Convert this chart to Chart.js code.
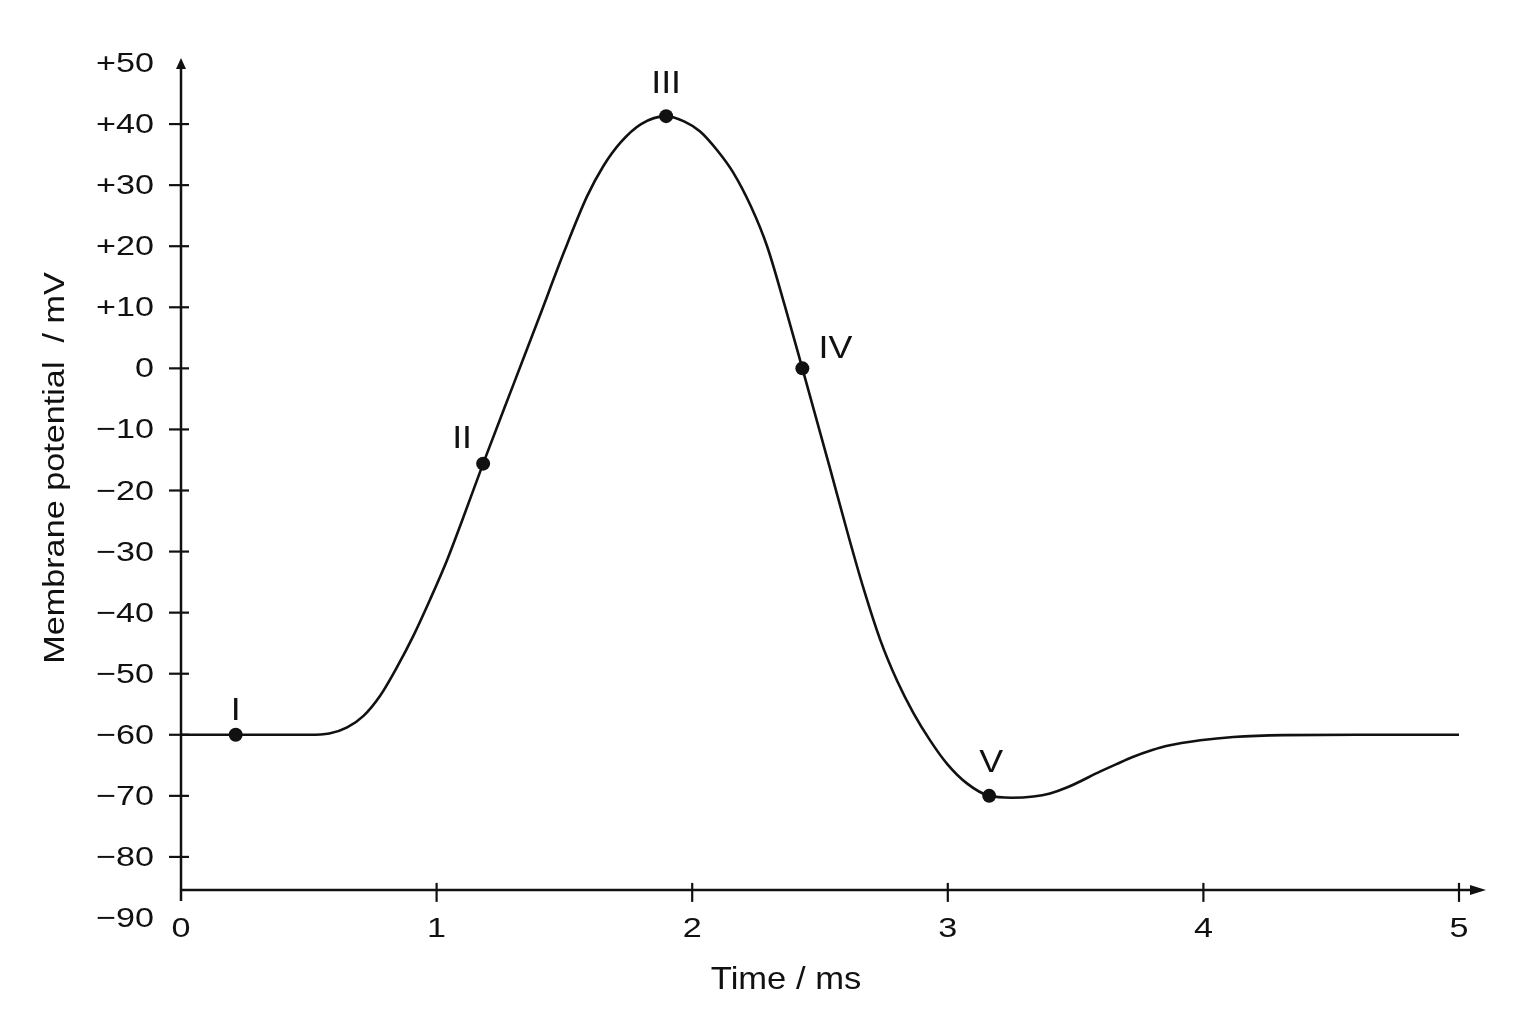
<!DOCTYPE html>
<html lang="en">
<head>
  <meta charset="UTF-8">
  <title>Membrane potential vs time</title>
  <style>
    * {
      margin: 0;
      padding: 0;
      box-sizing: border-box;
    }

    body {
      background-color: #fff;
      width: 1536px;
      height: 1024px;
      overflow: hidden;
    }

    canvas {
      display: block;
    }
  </style>
  <script src="https://cdn.jsdelivr.net/npm/chart.js"></script>
</head>
<body>
  <canvas id="actionPotentialChart" width="1536" height="1024"></canvas>

  <script>
    // Curve (time in ms, potential in mV)
    const time = [0, 0.215, 0.50, 0.58, 0.65, 0.714, 0.779, 0.844, 0.909, 0.975, 1.04, 1.10,
      1.182, 1.30, 1.40, 1.50, 1.589, 1.652, 1.72, 1.80, 1.898, 1.97, 2.031, 2.10, 2.16, 2.23,
      2.293, 2.36, 2.431, 2.54, 2.607, 2.670, 2.736, 2.802, 2.865, 2.932, 2.998, 3.076, 3.162,
      3.25, 3.335, 3.40, 3.468, 3.597, 3.66, 3.726, 3.80, 3.859, 3.988, 4.117, 4.313, 4.6, 5.0];
    const potential = [-60, -60, -60, -59.8, -58.8, -56.9, -53.6, -49.0, -43.8, -37.8, -31.5, -24.9,
      -15.6, -2.7, 8.2, 19.2, 28.2, 33.1, 37.0, 40.0, 41.3, 40.4, 38.8, 35.6, 32.1, 26.5,
      20.0, 10.6, 0, -16.5, -26.8, -36.0, -44.5, -51.2, -56.4, -61.0, -64.8, -68.0, -70,
      -70.3, -70.1, -69.6, -68.6, -66.0, -64.8, -63.6, -62.5, -61.8, -60.9, -60.35, -60.05, -60, -60];

    // Labelled stages
    const stageLabels = ['I', 'II', 'III', 'IV', 'V'];
    const stageTime = [0.214, 1.182, 1.898, 2.431, 3.162];
    const stagePotential = [-60, -15.6, 41.3, 0, -70];

    // Axes
    const xTicks = [0, 1, 2, 3, 4, 5];
    const xTickLabels = ['0', '1', '2', '3', '4', '5'];
    const yTicks = [50, 40, 30, 20, 10, 0, -10, -20, -30, -40, -50, -60, -70, -80, -90];
    const yTickLabels = ['+50', '+40', '+30', '+20', '+10', '0', '\u221210', '\u221220', '\u221230',
      '\u221240', '\u221250', '\u221260', '\u221270', '\u221280', '\u221290'];
    const xTitle = 'Time / ms';
    const yTitle = 'Membrane potential  / mV';

    const INK = '#111';
    const FONT = '"Liberation Sans", Arial, sans-serif';
    const X_AXIS_AT = -85.4; // where the time axis crosses the potential axis

    // label offsets from each stage dot, in pixels
    const stageOffsets = [[0, -26], [-21, -27], [0, -35], [33, -22], [2, -35]];

    // text helper: the original lettering is a little wider than Liberation Sans
    function drawText(ctx, text, x, y, size, stretch, align) {
      ctx.save();
      ctx.font = size + 'px ' + FONT;
      ctx.fillStyle = INK;
      ctx.textAlign = align || 'center';
      ctx.textBaseline = 'alphabetic';
      ctx.translate(x, y + size * 0.358);
      ctx.scale(stretch, 1);
      ctx.fillText(text, 0, 0);
      ctx.restore();
    }

    const axesPlugin = {
      id: 'handAxes',
      beforeDraw(chart) {
        const ctx = chart.ctx;
        ctx.save();
        ctx.fillStyle = '#fff';
        ctx.fillRect(0, 0, chart.width, chart.height);
        ctx.restore();
      },
      beforeDatasetsDraw(chart) {
        const ctx = chart.ctx;
        const xs = chart.scales.x;
        const ys = chart.scales.y;
        const x0 = xs.getPixelForValue(0);
        const yAxisY = ys.getPixelForValue(X_AXIS_AT);
        const yTop = ys.getPixelForValue(50);
        const xEnd = xs.getPixelForValue(5);

        ctx.save();
        ctx.strokeStyle = INK;
        ctx.fillStyle = INK;
        ctx.lineWidth = 2.5;

        // potential axis
        ctx.beginPath();
        ctx.moveTo(x0, yAxisY + 11);
        ctx.lineTo(x0, yTop + 4);
        ctx.stroke();
        ctx.beginPath();
        ctx.moveTo(x0, yTop - 5);
        ctx.lineTo(x0 - 5, yTop + 6);
        ctx.lineTo(x0 + 5, yTop + 6);
        ctx.closePath();
        ctx.fill();

        // time axis
        ctx.beginPath();
        ctx.moveTo(x0, yAxisY);
        ctx.lineTo(xEnd + 16, yAxisY);
        ctx.stroke();
        ctx.beginPath();
        ctx.moveTo(xEnd + 27, yAxisY);
        ctx.lineTo(xEnd + 11, yAxisY - 5);
        ctx.lineTo(xEnd + 11, yAxisY + 5);
        ctx.closePath();
        ctx.fill();

        // cross ticks
        ctx.lineWidth = 2.2;
        yTicks.forEach(v => {
          if (v >= 50 || v <= -90) return;
          const py = ys.getPixelForValue(v);
          ctx.beginPath();
          ctx.moveTo(x0 - 12, py);
          ctx.lineTo(x0 + 8, py);
          ctx.stroke();
        });
        xTicks.forEach(v => {
          if (v === 0) return;
          const px = xs.getPixelForValue(v);
          ctx.beginPath();
          ctx.moveTo(px, yAxisY - 7);
          ctx.lineTo(px, yAxisY + 12);
          ctx.stroke();
        });
        ctx.restore();

        // tick labels
        yTicks.forEach((v, i) => {
          drawText(ctx, yTickLabels[i], x0 - 27, ys.getPixelForValue(v) - 1, 28, 1.22, 'right');
        });
        xTicks.forEach((v, i) => {
          drawText(ctx, xTickLabels[i], xs.getPixelForValue(v), yAxisY + 37, 28, 1.22, 'center');
        });

        // axis titles
        drawText(ctx, xTitle, 786, 978, 32, 1.08, 'center');
        ctx.save();
        ctx.translate(53, 468);
        ctx.rotate(-Math.PI / 2);
        drawText(ctx, yTitle, 0, 0, 30, 1.14, 'center');
        ctx.restore();
      },
      afterDatasetsDraw(chart) {
        const ctx = chart.ctx;
        const meta = chart.getDatasetMeta(0);
        meta.data.forEach((pt, i) => {
          drawText(ctx, stageLabels[i], pt.x + stageOffsets[i][0], pt.y + stageOffsets[i][1], 32, 1.12, 'center');
        });
      }
    };

    const ctx = document.getElementById('actionPotentialChart').getContext('2d');

    new Chart(ctx, {
      type: 'line',
      data: {
        datasets: [
          {
            label: 'Stages',
            data: stageTime.map((t, i) => ({ x: t, y: stagePotential[i] })),
            showLine: false,
            pointRadius: 7,
            pointBackgroundColor: INK,
            pointBorderWidth: 0,
            clip: false
          },
          {
            label: 'Membrane potential',
            data: time.map((t, i) => ({ x: t, y: potential[i] })),
            borderColor: INK,
            borderWidth: 2.6,
            pointRadius: 0,
            cubicInterpolationMode: 'monotone',
            fill: false,
            clip: false
          }
        ]
      },
      options: {
        responsive: false,
        animation: false,
        events: [],
        layout: {
          padding: { left: 181, right: 77, top: 63, bottom: 106 }
        },
        plugins: {
          legend: { display: false },
          tooltip: { enabled: false }
        },
        scales: {
          x: { type: 'linear', min: 0, max: 5, display: false },
          y: { type: 'linear', min: -90, max: 50, display: false }
        }
      },
      plugins: [axesPlugin]
    });
  </script>
</body>
</html>
